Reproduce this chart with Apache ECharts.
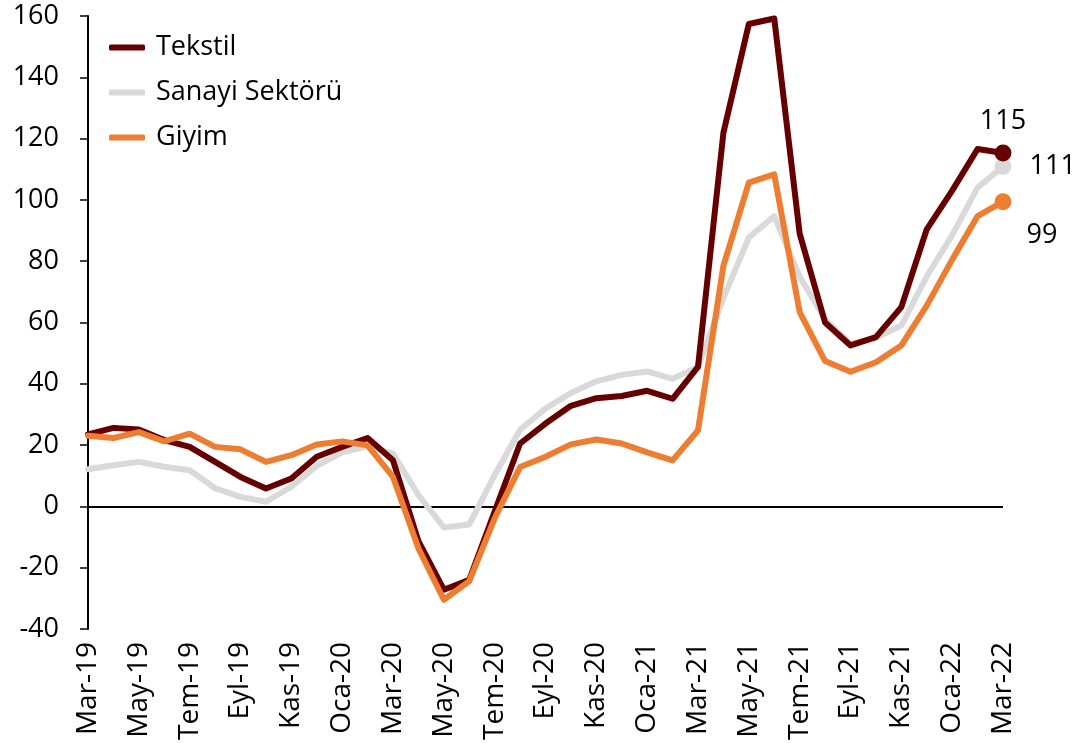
<!DOCTYPE html>
<html>
<head>
<meta charset="utf-8">
<script src="https://cdn.jsdelivr.net/npm/echarts@6/dist/echarts.min.js"></script>
<style>
html,body{margin:0;padding:0;background:#fff;}
#chart{width:1082px;height:743px;}
</style>
</head>
<body>
<div id="chart"></div>
<script>
const months = ['Mar-19','Nis-19','May-19','Haz-19','Tem-19','Ağu-19','Eyl-19','Eki-19','Kas-19','Ara-19',
  'Oca-20','Şub-20','Mar-20','Nis-20','May-20','Haz-20','Tem-20','Ağu-20','Eyl-20','Eki-20','Kas-20','Ara-20',
  'Oca-21','Şub-21','Mar-21','Nis-21','May-21','Haz-21','Tem-21','Ağu-21','Eyl-21','Eki-21','Kas-21','Ara-21',
  'Oca-22','Şub-22','Mar-22'];
const tekstil = [23.5,25.6,25.1,21.6,19.4,14.5,9.6,5.8,9.1,16.2,19.4,22.3,15,-11.4,-27.2,-24,-1.7,20.5,27,32.8,35.3,36,37.7,35.1,45.5,121.9,157.4,159.2,89,60,52.5,55.2,65,90.4,103,116.6,115.3];
const sanayi = [12.1,13.4,14.5,12.9,11.8,5.9,3.1,1.5,6.4,13.2,17.6,19.6,17.2,3.7,-6.9,-5.9,10.2,25,31.9,37,40.8,42.9,44,41.6,45.5,68,87.7,94.7,75,61,53,55,59,75,88.5,104,110.9];
const giyim = [23,22.3,24.2,21.2,23.7,19.4,18.6,14.5,16.7,20.2,21.2,19.9,9.6,-13.7,-30.5,-24.4,-3.9,12.8,16.2,20.2,21.8,20.5,17.6,15,24.8,78.5,105.6,108.3,63.4,47.4,43.9,47,52.5,65.5,80.5,94.7,99.4];
const seriesNames = ['Tekstil','Sanayi Sektörü','Giyim'];
const colors = ['#660000','#D9D9D9','#ED7D31'];

const FONT = 'Open Sans';
const last = months.length - 1;
const chart = echarts.init(document.getElementById('chart'), null, {renderer:'canvas'});

function mkSeries(name, data, color, z, labelCfg){
  return {
    name: name, type: 'line', data: data, z: z,
    lineStyle: {color: color, width: 6, cap:'round', join:'round'},
    itemStyle: {color: color},
    symbol: 'circle',
    showSymbol: true,
    symbolSize: function(v, p){ return p.dataIndex === last ? 17 : 0; },
    label: Object.assign({
      show: true,
      color: '#000',
      fontFamily: FONT,
      fontSize: 27,
      formatter: function(p){ return p.dataIndex === last ? String(Math.round(p.value)) : ''; }
    }, labelCfg),
    emphasis: {disabled: true},
    animation: false
  };
}

const option = {
  animation: false,
  textStyle: {fontFamily: FONT},
  grid: {left: 88, right: 79, top: 16, bottom: 112, containLabel: false},
  legend: {
    orient: 'vertical', left: 104, top: 29,
    itemWidth: 36, itemHeight: 6, itemGap: 18,
    icon: 'roundRect',
    textStyle: {fontFamily: FONT, fontSize: 27, color: '#000', lineHeight: 27, padding:[0,0,0,6]},
    data: seriesNames
  },
  xAxis: {
    type: 'category', data: months, boundaryGap: false,
    axisLine: {show: false},
    axisTick: {show: false},
    axisLabel: {interval: 1, rotate: 90, fontFamily: FONT, fontSize: 28, color: '#000', margin: 13}
  },
  yAxis: {
    type: 'value', min: -40, max: 160, interval: 20,
    axisLine: {show: true, lineStyle: {color: '#000', width: 2}},
    axisTick: {show: true, inside: false, length: 8, lineStyle: {color: '#000', width: 1.5}},
    splitLine: {show: false},
    axisLabel: {fontFamily: FONT, fontSize: 27, color: '#000', margin: 29}
  },
  series: [
    mkSeries(seriesNames[1], sanayi, colors[1], 2, {position: 'right', distance: 18}),
    mkSeries(seriesNames[0], tekstil, colors[0], 3, {position: 'top', distance: 10}),
    Object.assign(mkSeries(seriesNames[2], giyim, colors[2], 4, {position: 'right', distance: 15, offset: [0, 34]}), {
      markLine: {
        silent: true, symbol: ['none','none'], label: {show: false},
        lineStyle: {color: '#000', width: 2, type: 'solid'},
        data: [{yAxis: 0}], z: 1
      }
    })
  ]
};
chart.setOption(option);
</script>
</body>
</html>
